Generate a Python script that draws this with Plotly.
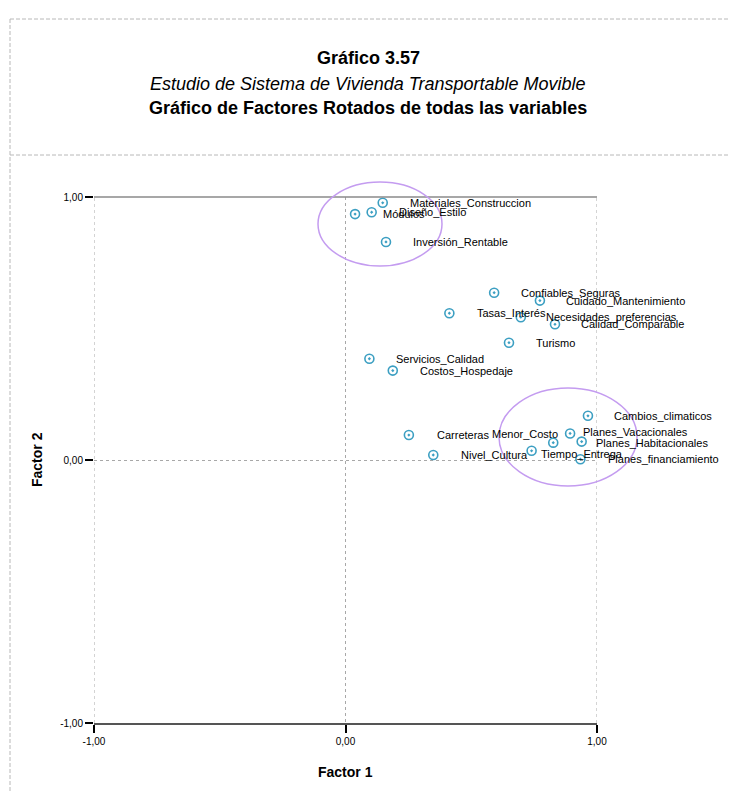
import plotly.graph_objects as go

# ---- data (rotated factor loadings) ----
variables = [
    "Materiales_Construccion", "Módulos", "Diseño_Estilo", "Inversión_Rentable",
    "Confiables_Seguras", "Cuidado_Mantenimiento", "Tasas_Interés",
    "Necesidades_preferencias", "Calidad_Comparable", "Turismo",
    "Servicios_Calidad", "Costos_Hospedaje", "Cambios_climaticos",
    "Planes_Vacacionales", "Menor_Costo", "Planes_Habitacionales",
    "Tiempo_Entrega", "Planes_financiamiento", "Carreteras", "Nivel_Cultura",
]
factor1 = [0.148, 0.038, 0.104, 0.161, 0.591, 0.773, 0.413, 0.697, 0.833, 0.650,
           0.095, 0.188, 0.964, 0.893, 0.826, 0.939, 0.740, 0.934, 0.252, 0.349]
factor2 = [0.978, 0.935, 0.942, 0.829, 0.636, 0.606, 0.558, 0.543, 0.516, 0.446,
           0.385, 0.340, 0.168, 0.101, 0.066, 0.070, 0.035, 0.003, 0.095, 0.019]
tick_vals = [-1, 0, 1]
tick_text = ["-1,00", "0,00", "1,00"]

# label placement (pixel offsets from each marker; layout only)
label_dx = [25, 26, 25, 25, 25, 24, 26, 23, 24, 25, 25, 25, 24, 11, 7, 12, 7, 26, 26, 26]
label_dy = [0, 0, 0, 0, 0, 0, 0, 0, 0, 0, 0, 0, 0, 1, 9, -1, -3, 0, 0, 0]
label_anchor = ["left"] * 14 + ["right"] + ["left"] * 5

OFF = 8  # page body margin
W, H = 736 - 2 * OFF, 799 - 2 * OFF
L, R, T, B = 94 - OFF, 597 - OFF, 197 - OFF, 723 - OFF


def px(xp):
    return (xp - OFF - L) / (R - L)


def py(yp):
    return (B - (yp - OFF)) / (B - T)


FONT = "Liberation Sans, Arial"

fig = go.Figure()
fig.add_trace(go.Scatter(
    x=factor1, y=factor2, mode="markers",
    marker=dict(symbol="circle-open-dot", size=9, color="#3c9fc2",
                line=dict(width=1.6, color="#3c9fc2")),
    hoverinfo="text", text=variables, cliponaxis=False, showlegend=False,
))

annotations = []
for name, x, y, dx, dy, anc in zip(variables, factor1, factor2, label_dx, label_dy, label_anchor):
    annotations.append(dict(
        x=x, y=y, xref="x", yref="y", text=name, showarrow=False,
        xanchor=anc, yanchor="middle", xshift=dx, yshift=dy,
        font=dict(family=FONT, size=11, color="#000000"),
    ))

titles = [
    (58, "<b>Gráfico 3.57</b>"),
    (84, "<i>Estudio de Sistema de Vivienda Transportable Movible</i>"),
    (108, "<b>Gráfico de Factores Rotados de todas las variables</b>"),
]
for yp, txt in titles:
    annotations.append(dict(
        xref="paper", yref="paper", x=px(368), y=py(yp), text=txt, showarrow=False,
        xanchor="center", yanchor="middle",
        font=dict(family=FONT, size=18, color="#000000")))

annotations += [
    dict(x=px(345), y=py(772), xref="paper", yref="paper", text="<b>Factor 1</b>",
         showarrow=False, xanchor="center", yanchor="middle",
         font=dict(family=FONT, size=14, color="#000000")),
    dict(x=px(37), y=py(460), xref="paper", yref="paper", text="<b>Factor 2</b>",
         showarrow=False, xanchor="center", yanchor="middle", textangle=-90,
         font=dict(family=FONT, size=14, color="#000000")),
]

frame = dict(color="#b8b8b8", width=1, dash="4px,2px")
shapes = [
    # dashed frame
    dict(type="line", xref="paper", yref="paper", x0=px(10), x1=px(760), y0=py(19), y1=py(19), line=frame),
    dict(type="line", xref="paper", yref="paper", x0=px(10), x1=px(760), y0=py(155), y1=py(155), line=frame),
    dict(type="line", xref="paper", yref="paper", x0=px(10), x1=px(10), y0=py(19), y1=py(820), line=frame),
    # top border of the plot
    dict(type="line", xref="paper", yref="paper", x0=0, x1=1, y0=1, y1=1,
         line=dict(color="#8a8a8a", width=1.5)),
    # dotted verticals at the x-range ends
    dict(type="line", xref="x", yref="paper", x0=-1, x1=-1, y0=0, y1=1,
         line=dict(color="#a8a8a8", width=1, dash="dot")),
    dict(type="line", xref="x", yref="paper", x0=1, x1=1, y0=0, y1=1,
         line=dict(color="#a8a8a8", width=1, dash="dot")),
    # highlight ellipses
    dict(type="circle", xref="paper", yref="paper", x0=px(318), x1=px(442), y0=py(182), y1=py(266),
         line=dict(color="#c49cf0", width=1.5), layer="above"),
    dict(type="circle", xref="paper", yref="paper", x0=px(499), x1=px(637), y0=py(388), y1=py(486),
         line=dict(color="#c49cf0", width=1.5), layer="above"),
]

fig.update_layout(
    width=W, height=H,
    margin=dict(l=L, r=W - R, t=T, b=H - B, pad=0),
    paper_bgcolor="white", plot_bgcolor="white",
    annotations=annotations, shapes=shapes,
    font=dict(family=FONT, size=10, color="#000000"),
    xaxis=dict(range=[-1, 1], tickvals=tick_vals, ticktext=tick_text,
               showline=True, mirror=False, linecolor="#555555", linewidth=2,
               ticks="outside", ticklen=8, tickwidth=2, tickcolor="#000000",
               showgrid=True, gridcolor="#a8a8a8", griddash="dot", gridwidth=1,
               zeroline=False, tickfont=dict(size=10), fixedrange=True),
    yaxis=dict(range=[-1, 1], tickvals=tick_vals, ticktext=tick_text,
               showline=False, ticks="outside", ticklen=8, tickwidth=2, tickcolor="#000000",
               showgrid=True, gridcolor="#a8a8a8", griddash="dot", gridwidth=1,
               zeroline=False, tickfont=dict(size=10), fixedrange=True),
)

fig.write_html("out.html")
